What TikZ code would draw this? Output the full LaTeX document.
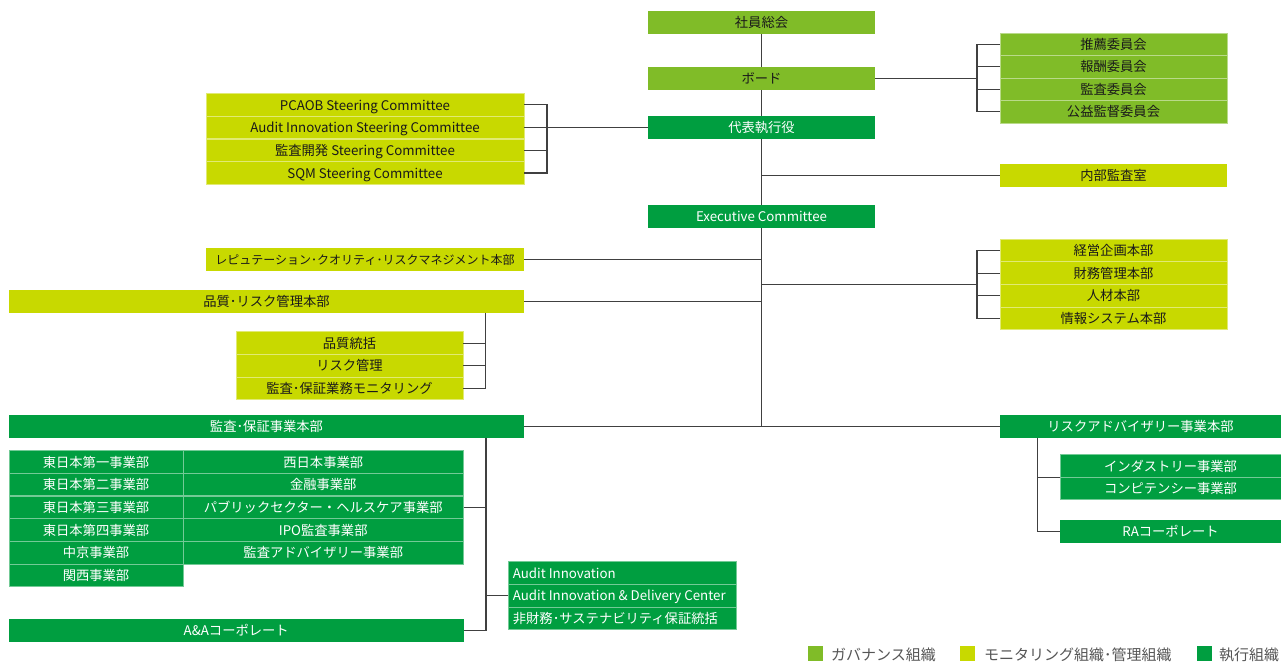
\documentclass[tikz,border=0pt]{standalone}
\usepackage{fontspec}
\setmainfont{Noto Sans CJK JP}
\definecolor{govc}{HTML}{80BC28}
\definecolor{monc}{HTML}{C8D900}
\definecolor{exgc}{HTML}{009E40}
\definecolor{linec}{HTML}{404040}
\definecolor{legc}{HTML}{555555}
\definecolor{txtc}{HTML}{1A1A1A}
\begin{document}
\begin{tikzpicture}[x=1pt,y=-1pt,
  bx/.style={inner sep=0pt, text height=1.04em, text depth=0em, font=\fontsize{13.3}{15}\selectfont, minimum height=22.6pt},
  wd/.style={minimum width=#1pt},
  gov/.style={bx, fill=govc, text=txtc},
  mon/.style={bx, fill=monc, text=txtc},
  exg/.style={bx, fill=exgc, text=white},
  stk/.style={draw=white!45!#1, line width=0.8pt},
  ln/.style={draw=linec, line width=1.1pt},
  lsq/.style={inner sep=0pt, minimum size=15pt},
  legtxt/.style={inner sep=0pt, text height=1.04em, text depth=0em, font=\fontsize{15}{17}\selectfont, text=legc, anchor=west}
]
\useasboundingbox (0,0) rectangle (1281,662);

\coordinate (mbot) at (761.5,426.25);
\coordinate (cb) at (977,78.25);
\coordinate (sb) at (547,127.4);
\coordinate (kb) at (977,284.4);
\coordinate (qx) at (485.5,0);
\coordinate (kx) at (486,0);
\coordinate (rx) at (1037.3,0);

% ---------- governance ----------
\node[gov, wd=227] (soukai) at (761.5,22.25) {社員総会};
\node[gov, wd=227] (board) at (761.5,78.25) {ボード};
\node[gov, stk=govc, wd=227] (c1) at (1113.5,44.25) {推薦委員会};
\node[gov, stk=govc, wd=227] (c2) at (1113.5,66.75) {報酬委員会};
\node[gov, stk=govc, wd=227] (c3) at (1113.5,89.25) {監査委員会};
\node[gov, stk=govc, wd=227] (c4) at (1113.5,111.75) {公益監督委員会};

% ---------- executive ----------
\node[exg, wd=227] (ceo) at (761.5,127.4) {代表執行役};
\node[exg, wd=227] (excom) at (761.5,216.25) {Executive Committee};
\node[exg, wd=515] (kansa) at (266.5,426.25) {監査･保証事業本部};
\node[exg, wd=281] (rad) at (1140.5,426.25) {リスクアドバイザリー事業本部};

\node[exg, stk=exgc, wd=174] (l1) at (96,461.85) {東日本第一事業部};
\node[exg, stk=exgc, wd=174] (l2) at (96,484.55) {東日本第二事業部};
\node[exg, stk=exgc, wd=174] (l3) at (96,507.25) {東日本第三事業部};
\node[exg, stk=exgc, wd=174] (l4) at (96,529.95) {東日本第四事業部};
\node[exg, stk=exgc, wd=174] (l5) at (96,552.65) {中京事業部};
\node[exg, stk=exgc, wd=174] (l6) at (96,575.35) {関西事業部};

\node[exg, stk=exgc, wd=280.5] (r1) at (323.25,461.85) {西日本事業部};
\node[exg, stk=exgc, wd=280.5] (r2) at (323.25,484.55) {金融事業部};
\node[exg, stk=exgc, wd=280.5] (r3) at (323.25,507.25) {パブリックセクター・ヘルスケア事業部};
\node[exg, stk=exgc, wd=280.5] (r4) at (323.25,529.95) {IPO監査事業部};
\node[exg, stk=exgc, wd=280.5] (r5) at (323.25,552.65) {監査アドバイザリー事業部};

\node[exg, stk=exgc, wd=227.3] (ai1) at (622.35,573.05) {\makebox[219pt][l]{Audit Innovation}};
\node[exg, stk=exgc, wd=227.3] (ai2) at (622.35,595.75) {\makebox[219pt][l]{Audit Innovation \& Delivery Center}};
\node[exg, stk=exgc, wd=227.3] (ai3) at (622.35,618.45) {\makebox[219pt][l]{非財務･サステナビリティ保証統括}};

\node[exg, wd=454.5] (aa) at (236.25,630.35) {A\&Aコーポレート};

\node[exg, stk=exgc, wd=221] (ind1) at (1170.5,465.85) {インダストリー事業部};
\node[exg, stk=exgc, wd=221] (ind2) at (1170.5,488.55) {コンピテンシー事業部};
\node[exg, wd=221] (ra) at (1170.5,531.35) {RAコーポレート};

% ---------- monitoring ----------
\node[mon, stk=monc, wd=318] (s1) at (365,104.85) {PCAOB Steering Committee};
\node[mon, stk=monc, wd=318] (s2) at (365,127.55) {Audit Innovation Steering Committee};
\node[mon, stk=monc, wd=318] (s3) at (365,150.25) {監査開発 Steering Committee};
\node[mon, stk=monc, wd=318] (s4) at (365,172.95) {SQM Steering Committee};

\node[mon, wd=227] (naibu) at (1113.5,175.35) {内部監査室};
\node[mon, wd=318, font=\fontsize{12}{14}\selectfont] (rep) at (365,259.75) {レピュテーション･クオリティ･リスクマネジメント本部};
\node[mon, wd=515] (qr) at (266.5,301.35) {品質･リスク管理本部};

\node[mon, stk=monc, wd=227] (q1) at (349.5,343.05) {品質統括};
\node[mon, stk=monc, wd=227] (q2) at (349.5,365.75) {リスク管理};
\node[mon, stk=monc, wd=227] (q3) at (349.5,388.45) {監査･保証業務モニタリング};

\node[mon, stk=monc, wd=227] (k1) at (1113.5,250.35) {経営企画本部};
\node[mon, stk=monc, wd=227] (k2) at (1113.5,273.05) {財務管理本部};
\node[mon, stk=monc, wd=227] (k3) at (1113.5,295.75) {人材本部};
\node[mon, stk=monc, wd=227] (k4) at (1113.5,318.45) {情報システム本部};

% ---------- connectors ----------
\draw[ln] (soukai.south) -- (board.north);
\draw[ln] (board.south) -- (ceo.north);
\draw[ln] (ceo.south) -- (excom.north);
\draw[ln] (excom.south) -- (mbot);

\draw[ln] (board.east) -- (cb);
\draw[ln] (c1.west) -- (c1.west -| cb) |- (c4.west);
\draw[ln] (c2.west) -- (c2.west -| cb);
\draw[ln] (c3.west) -- (c3.west -| cb);

\draw[ln] (ceo.west) -- (sb);
\draw[ln] (s1.east) -- (s1.east -| sb) |- (s4.east);
\draw[ln] (s2.east) -- (s2.east -| sb);
\draw[ln] (s3.east) -- (s3.east -| sb);

\draw[ln] (naibu.west) -- (naibu.west -| ceo.south);
\draw[ln] (rep.east) -- (rep.east -| ceo.south);
\draw[ln] (qr.east) -- (qr.east -| ceo.south);

\draw[ln] (kb -| ceo.south) -- (kb);
\draw[ln] (k1.west) -- (k1.west -| kb) |- (k4.west);
\draw[ln] (k2.west) -- (k2.west -| kb);
\draw[ln] (k3.west) -- (k3.west -| kb);

\draw[ln] (kansa.east) -- (rad.west);

\draw[ln] (qr.south -| qx) |- (q3.east);
\draw[ln] (q1.east) -- (q1.east -| qx);
\draw[ln] (q2.east) -- (q2.east -| qx);

\draw[ln] (kansa.south -| kx) |- (aa.east);
\draw[ln] (r3.east) -- (r3.east -| kx);
\draw[ln] (ai2.west) -- (ai2.west -| kx);

\draw[ln] (rad.south -| rx) |- (ra.west);
\draw[ln] (ind1.south west) -- (ind1.south west -| rx);

% ---------- legend ----------
\node[lsq, fill=govc] (g1) at (815.8,653.5) {};
\node[legtxt] (gt1) at (831,655) {ガバナンス組織};
\node[lsq, fill=monc] (g2) at (967.5,653.5) {};
\node[legtxt] (gt2) at (984,655) {モニタリング組織･管理組織};
\node[lsq, fill=exgc] (g3) at (1204,653.5) {};
\node[legtxt] (gt3) at (1219,655) {執行組織};
\end{tikzpicture}
\end{document}
